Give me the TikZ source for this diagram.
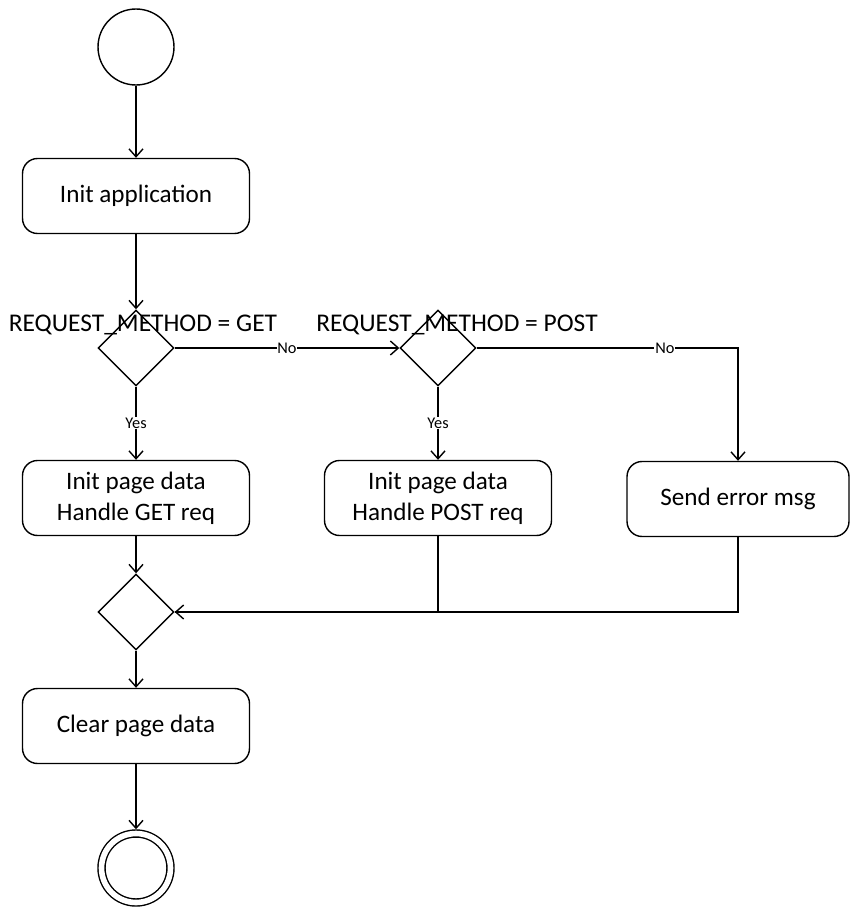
\documentclass[tikz,border=0pt]{standalone}
\usepackage{fontspec}
\setmainfont{Carlito}
\usetikzlibrary{arrows.meta,shapes.geometric}

\tikzset{
  flow/.style={-{Straight Barb[length=4.5pt,width=8pt]}},
  activity/.style={draw,rounded corners=0.3cm,minimum width=4.54cm,minimum height=1.5cm,
    align=center,font=\fontsize{14.3}{17.5}\selectfont},
  decision/.style={draw,diamond,inner sep=0pt,minimum width=1.52cm,minimum height=1.52cm},
  cond/.style={font=\fontsize{14.5}{17}\selectfont},
  guard/.style={fill=white,inner sep=0.5pt,font=\fontsize{9.3}{10}\selectfont},
}

\begin{document}
\begin{tikzpicture}[x=0.02cm,y=-0.02cm,line width=0.8pt]
  \useasboundingbox (0,0) rectangle (849,916);

  % Start and end
  \node[draw,circle,minimum size=1.52cm] (start) at (136,47) {};
  \node[draw,circle,double,double distance=3.2pt,minimum size=1.38cm,outer sep=2.4pt] (stop) at (136,868) {};

  % Activities
  \node[activity] (init) at (136,196) {Init application};
  \node[activity] (get) at (136,498) {Init page data\\Handle GET req};
  \node[activity] (post) at (438,498) {Init page data\\Handle POST req};
  \node[activity,minimum width=4.44cm] (err) at (738,499) {Send error msg};
  \node[activity] (clear) at (136,726) {Clear page data};

  % Decisions
  \node[decision] (isget) at (136,348) {};
  \node[decision] (ispost) at (438,348) {};
  \node[decision] (merge) at (136,612) {};

  % Conditions
  \node[cond] (getcond) at (143,325) {REQUEST\_METHOD = GET};
  \node[cond] (postcond) at (457,325) {REQUEST\_METHOD = POST};

  % Flow
  \draw[flow] (start) -- (init);
  \draw[flow] (init) -- (isget.north);
  \draw[flow] (isget.east) -- node[guard] {No} (ispost.west);
  \draw[flow] (ispost.east) -| node[guard,pos=0.36] {No} (err.north);
  \draw[flow] (isget.south) -- node[guard] {Yes} (get.north);
  \draw[flow] (ispost.south) -- node[guard] {Yes} (post.north);
  \draw[flow] (get) -- (merge.north);
  \draw (post) |- (merge.east);
  \draw[flow] (err) |- (merge.east);
  \draw[flow] (merge.south) -- (clear);
  \draw[flow] (clear) -- (stop);

\end{tikzpicture}
\end{document}
